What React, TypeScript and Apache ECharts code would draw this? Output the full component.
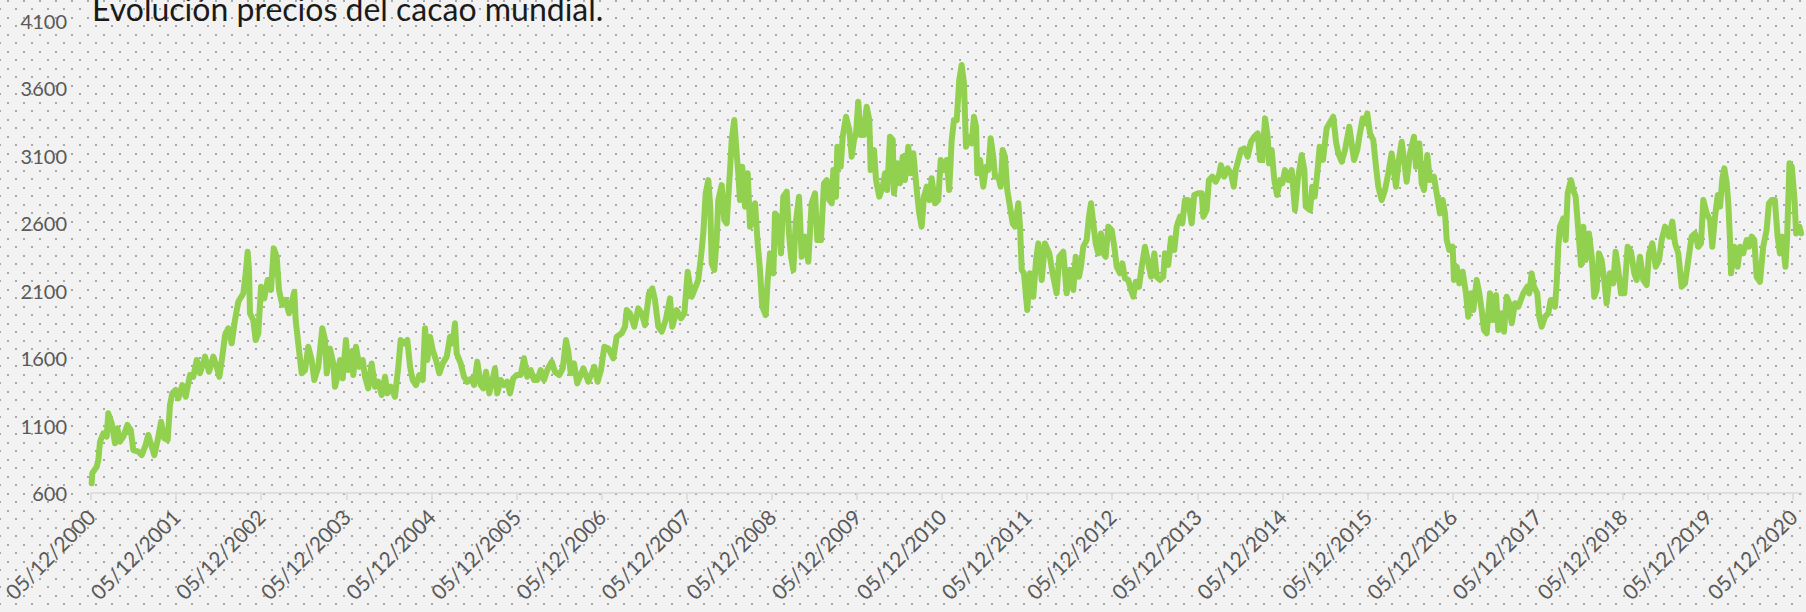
import React, { useEffect, useRef } from 'react';
import * as echarts from 'echarts';

const TITLE = 'Evolución precios del cacao mundial.';
const TICK_YEARS = [2000, 2001, 2002, 2003, 2004, 2005, 2006, 2007, 2008, 2009, 2010, 2011, 2012, 2013, 2014, 2015, 2016, 2017, 2018, 2019, 2020];
const TICK_PREFIX = '05/12/';
const X_START = 2000;
const X_END = 2020.1;
const Y_MIN = 600;
const Y_MAX = 4100;
const Y_STEP = 500;

// [years since 05/12/2000, price]
const prices2000: [number, number][] = [
  [0.008, 672], [0.015, 746], [0.067, 795], [0.086, 844], [0.106, 980], [0.145, 1042], [0.184, 1017], [0.203, 1190],
  [0.243, 1116], [0.282, 968], [0.309, 1079], [0.341, 980], [0.380, 1017], [0.427, 1104], [0.467, 1067], [0.497, 918],
  [0.556, 906], [0.596, 881], [0.635, 943], [0.673, 1030], [0.713, 943], [0.744, 881], [0.784, 993], [0.823, 1128],
  [0.861, 1005], [0.901, 993], [0.928, 1252], [0.955, 1338], [0.995, 1363], [1.026, 1301], [1.073, 1400], [1.113, 1313],
  [1.163, 1474], [1.202, 1461], [1.242, 1585], [1.281, 1487], [1.340, 1610], [1.387, 1498], [1.437, 1610], [1.477, 1535],
  [1.508, 1461], [1.543, 1610], [1.575, 1770], [1.613, 1820], [1.653, 1709], [1.692, 1881], [1.731, 2017], [1.790, 2079],
  [1.818, 2227], [1.841, 2387], [1.857, 2252], [1.868, 1931], [1.907, 1881], [1.935, 1733], [1.966, 1783], [1.998, 2128],
  [2.036, 2042], [2.076, 2178], [2.115, 2104], [2.147, 2412], [2.182, 2350], [2.209, 2104], [2.248, 1993], [2.288, 2030],
  [2.327, 1931], [2.365, 2030], [2.389, 2091], [2.405, 1881], [2.444, 1659], [2.476, 1487], [2.515, 1511], [2.553, 1684],
  [2.593, 1585], [2.624, 1437], [2.671, 1535], [2.718, 1820], [2.750, 1733], [2.770, 1487], [2.808, 1671], [2.847, 1560],
  [2.867, 1387],
];

const prices2003: [number, number][] = [
  [2.887, 1437], [2.926, 1585], [2.958, 1449], [2.996, 1733], [3.024, 1511], [3.052, 1647], [3.082, 1474], [3.114, 1684],
  [3.153, 1535], [3.193, 1585], [3.220, 1461], [3.258, 1375], [3.298, 1560], [3.337, 1387], [3.376, 1424], [3.416, 1326],
  [3.455, 1461], [3.482, 1338], [3.522, 1387], [3.572, 1313], [3.611, 1535], [3.639, 1733], [3.678, 1709], [3.717, 1733],
  [3.749, 1535], [3.780, 1437], [3.819, 1400], [3.858, 1474], [3.898, 1437], [3.925, 1820], [3.952, 1585], [3.984, 1758],
  [4.015, 1659], [4.054, 1585], [4.093, 1487], [4.133, 1560], [4.180, 1610], [4.219, 1758], [4.250, 1709], [4.277, 1857],
  [4.297, 1635], [4.344, 1560], [4.383, 1461], [4.422, 1424], [4.474, 1449], [4.501, 1400], [4.539, 1573], [4.579, 1400],
  [4.610, 1375], [4.642, 1498], [4.680, 1338], [4.709, 1412], [4.747, 1523], [4.774, 1338], [4.814, 1437], [4.853, 1400],
  [4.892, 1424], [4.924, 1338], [4.962, 1449], [5.002, 1474], [5.049, 1474], [5.088, 1598], [5.127, 1461], [5.167, 1511],
  [5.206, 1437], [5.244, 1437], [5.284, 1511], [5.323, 1437], [5.362, 1511], [5.414, 1573], [5.452, 1498], [5.503, 1474],
  [5.543, 1523], [5.582, 1733], [5.609, 1647], [5.637, 1487], [5.676, 1560], [5.714, 1412],
];

const prices2005: [number, number][] = [
  [5.785, 1523], [5.844, 1424], [5.914, 1535], [5.954, 1424], [5.993, 1511], [6.032, 1684], [6.079, 1671], [6.138, 1598],
  [6.177, 1758], [6.236, 1783], [6.275, 1832], [6.295, 1955], [6.334, 1931], [6.384, 1832], [6.431, 1968], [6.471, 1931],
  [6.510, 1844], [6.557, 2079], [6.596, 2116], [6.627, 2030], [6.666, 1832], [6.706, 1795], [6.753, 1881], [6.804, 2042],
  [6.831, 1832], [6.882, 1955], [6.933, 1894], [6.972, 1931], [7.012, 2239], [7.059, 2054], [7.106, 2128], [7.136, 2178],
  [7.168, 2350], [7.195, 2523], [7.223, 2820], [7.254, 2918], [7.277, 2721], [7.294, 2301], [7.324, 2252], [7.352, 2474],
  [7.371, 2770], [7.411, 2881], [7.442, 2622], [7.470, 2597], [7.489, 2795], [7.509, 2992], [7.529, 3215], [7.559, 3363],
  [7.587, 3116], [7.606, 2968], [7.626, 2770], [7.653, 3017], [7.685, 2721], [7.717, 2968], [7.744, 2573], [7.771, 2622],
  [7.803, 2746], [7.834, 2449], [7.861, 2252], [7.888, 1980], [7.928, 1918], [7.952, 2178], [7.979, 2375], [8.018, 2227],
  [8.038, 2671], [8.069, 2647], [8.108, 2375], [8.135, 2795], [8.175, 2832], [8.202, 2523], [8.226, 2350], [8.253, 2252],
  [8.281, 2597], [8.320, 2795], [8.351, 2350], [8.390, 2499], [8.429, 2313], [8.468, 2746], [8.508, 2820], [8.535, 2474],
  [8.578, 2474],
];

const prices2008: [number, number][] = [
  [8.613, 2894], [8.645, 2918], [8.675, 2770], [8.704, 2746], [8.723, 2992], [8.754, 2795], [8.770, 3165], [8.810, 3017],
  [8.833, 3239], [8.872, 3387], [8.911, 3289], [8.939, 3091], [8.966, 3215], [8.990, 3264], [9.016, 3498], [9.045, 3252],
  [9.083, 3252], [9.115, 3461], [9.146, 3363], [9.162, 2992], [9.201, 3141], [9.225, 2918], [9.263, 2795], [9.303, 2869],
  [9.330, 2968], [9.357, 2844], [9.389, 3239], [9.421, 3215], [9.436, 2820], [9.475, 3042], [9.506, 2894], [9.538, 3091],
  [9.565, 2918], [9.604, 3165], [9.632, 2968], [9.663, 3116], [9.703, 2844], [9.733, 2671], [9.761, 2573], [9.788, 2795],
  [9.820, 2869], [9.851, 2770], [9.879, 2931], [9.918, 2746], [9.956, 2770], [9.985, 3067], [10.023, 2992], [10.055, 3067],
  [10.085, 2844], [10.114, 3215], [10.141, 3363], [10.173, 3363], [10.203, 3659], [10.231, 3770], [10.258, 3635], [10.282, 3165],
  [10.321, 3239], [10.349, 3190], [10.376, 3387], [10.400, 3313], [10.415, 2968], [10.447, 3067], [10.485, 2869], [10.517, 3017],
  [10.544, 2992], [10.572, 3227], [10.603, 3091], [10.623, 2943], [10.662, 2943], [10.690, 2869], [10.713, 3141], [10.740, 3091],
  [10.767, 2844], [10.799, 2721], [10.831, 2597], [10.858, 2573], [10.897, 2746], [10.917, 2573], [10.937, 2252], [10.963, 2227],
  [11.002, 1955], [11.034, 2227], [11.073, 2054], [11.105, 2326], [11.132, 2449], [11.172, 2178], [11.210, 2449], [11.261, 2375],
  [11.300, 2227], [11.347, 2079], [11.378, 2350], [11.425, 2387],
];

const prices2011: [number, number][] = [
  [11.465, 2079], [11.496, 2252], [11.516, 2252], [11.543, 2104], [11.571, 2350], [11.610, 2202], [11.633, 2276], [11.660, 2424],
  [11.700, 2474], [11.727, 2647], [11.751, 2746], [11.778, 2597], [11.806, 2449], [11.837, 2375], [11.868, 2523], [11.895, 2375],
  [11.923, 2350], [11.954, 2573], [11.994, 2548], [12.025, 2424], [12.053, 2276], [12.092, 2227], [12.119, 2301], [12.150, 2190],
  [12.189, 2178], [12.221, 2104], [12.248, 2054], [12.276, 2165], [12.315, 2128], [12.347, 2276], [12.385, 2424], [12.417, 2326],
  [12.456, 2202], [12.495, 2375], [12.523, 2202], [12.562, 2178], [12.600, 2202], [12.620, 2375], [12.659, 2289], [12.691, 2487],
  [12.730, 2400], [12.758, 2573], [12.797, 2647], [12.824, 2597], [12.855, 2770], [12.894, 2770], [12.934, 2597], [12.964, 2807],
  [13.011, 2820], [13.052, 2820], [13.071, 2647], [13.110, 2696], [13.137, 2918], [13.176, 2943], [13.216, 2906], [13.255, 2955],
  [13.278, 3029], [13.317, 2943], [13.357, 3005], [13.396, 2968], [13.428, 2869], [13.451, 2992], [13.482, 3067], [13.513, 3141],
  [13.552, 3153], [13.592, 3091], [13.631, 3202], [13.670, 3239], [13.710, 3264], [13.737, 3067], [13.764, 3067], [13.796, 3375],
  [13.827, 3239], [13.843, 3042], [13.874, 3141], [13.905, 2918], [13.937, 2807], [13.972, 2918], [13.999, 2894], [14.031, 2992],
  [14.070, 2918], [14.109, 2992], [14.148, 2696], [14.180, 2918], [14.227, 3104], [14.258, 2992], [14.274, 2721], [14.325, 2696],
  [14.351, 2869],
];

const prices2014: [number, number][] = [
  [14.379, 2795], [14.406, 2943], [14.438, 3165], [14.477, 3067], [14.520, 3301], [14.554, 3338], [14.598, 3387], [14.630, 3202],
  [14.657, 3116], [14.697, 3054], [14.736, 3141], [14.786, 3313], [14.814, 3190], [14.841, 3067], [14.880, 3141], [14.904, 3239],
  [14.943, 3375], [14.971, 3338], [14.998, 3412], [15.029, 3264], [15.068, 3215], [15.100, 3017], [15.127, 2869], [15.167, 2770],
  [15.205, 2844], [15.244, 2968], [15.284, 3116], [15.335, 2869], [15.362, 3042], [15.402, 3202], [15.429, 3067], [15.460, 2906],
  [15.499, 3116], [15.546, 3239], [15.570, 3017], [15.609, 3190], [15.637, 2894], [15.664, 2844], [15.703, 3104], [15.734, 2918],
  [15.781, 2943], [15.813, 2820], [15.852, 2671], [15.883, 2770], [15.911, 2671], [15.931, 2474], [15.961, 2400], [16.001, 2424],
  [16.016, 2178], [16.048, 2276], [16.078, 2153], [16.118, 2239], [16.157, 2079], [16.184, 1906], [16.216, 2079], [16.243, 1955],
  [16.283, 2178], [16.314, 2079], [16.342, 1955], [16.369, 1807], [16.401, 1783], [16.439, 2079], [16.471, 1881], [16.510, 2067],
  [16.537, 1807], [16.577, 1931], [16.604, 1795], [16.636, 2054], [16.666, 2005], [16.695, 1857], [16.733, 2005], [16.772, 1980],
  [16.831, 2079], [16.877, 2128], [16.901, 2079], [16.929, 2227], [16.956, 2128], [16.995, 2079], [17.018, 1906], [17.047, 1832],
  [17.086, 1906], [17.125, 1931], [17.153, 2030], [17.203, 1980],
];

const prices2017: [number, number][] = [
  [17.223, 2153], [17.242, 2424], [17.262, 2573], [17.301, 2634], [17.329, 2474], [17.352, 2820], [17.391, 2918], [17.418, 2844],
  [17.446, 2795], [17.477, 2548], [17.509, 2289], [17.536, 2573], [17.564, 2326], [17.603, 2523], [17.635, 2350], [17.665, 2054],
  [17.693, 2104], [17.720, 2375], [17.751, 2326], [17.782, 2178], [17.810, 2005], [17.849, 2227], [17.888, 2153], [17.916, 2387],
  [17.947, 2252], [17.979, 2079], [18.018, 2079], [18.057, 2424], [18.096, 2387], [18.135, 2227], [18.163, 2178], [18.202, 2350],
  [18.241, 2178], [18.281, 2141], [18.308, 2375], [18.347, 2449], [18.387, 2276], [18.426, 2326], [18.457, 2474], [18.496, 2573],
  [18.543, 2499], [18.582, 2610], [18.614, 2449], [18.652, 2375], [18.692, 2128], [18.731, 2153], [18.770, 2326], [18.809, 2499],
  [18.848, 2523], [18.887, 2424], [18.919, 2449], [18.946, 2770], [18.986, 2671], [19.025, 2622], [19.052, 2424], [19.084, 2647],
  [19.116, 2807], [19.143, 2721], [19.170, 2931], [19.193, 3005], [19.221, 2894], [19.240, 2746], [19.260, 2474], [19.272, 2227],
  [19.310, 2424], [19.350, 2276], [19.377, 2424], [19.415, 2375], [19.456, 2474], [19.483, 2424], [19.515, 2499], [19.545, 2474],
  [19.573, 2202], [19.612, 2165], [19.650, 2424], [19.690, 2548], [19.717, 2746], [19.748, 2770], [19.787, 2770], [19.819, 2499],
  [19.846, 2375], [19.873, 2499], [19.911, 2276], [19.931, 2499], [19.959, 3042], [19.986, 3017], [20.018, 2770], [20.037, 2523],
  [20.076, 2573], [20.095, 2523],
];

const DOTS =
  "url(\"data:image/svg+xml,%3Csvg xmlns='http://www.w3.org/2000/svg' width='16' height='17'%3E%3Crect x='0' y='0' width='2' height='2' fill='%23a8a8a8'/%3E%3Crect x='8' y='8' width='2' height='2' fill='%23a8a8a8'/%3E%3C/svg%3E\")";

export default function App() {
  const ref = useRef<HTMLDivElement>(null);

  useEffect(() => {
    if (!ref.current) return;
    const chart = echarts.init(ref.current, null, { renderer: 'svg' });
    const all = [...prices2000, ...prices2003, ...prices2005, ...prices2008, ...prices2011, ...prices2014, ...prices2017];
    const data = all.map(([t, p]) => [X_START + t, p]);
    chart.setOption({
      animation: false,
      backgroundColor: 'transparent',
      title: {
        text: TITLE,
        left: 92,
        top: -8,
        padding: 0,
        textStyle: { fontFamily: 'Lato', fontSize: 32, fontWeight: 'normal', color: '#1a1a1a' },
      },
      grid: { left: 91, right: 4.5, top: 20.5, bottom: 119, containLabel: false, outerBoundsMode: 'none' },
      xAxis: {
        type: 'value',
        min: X_START,
        max: X_END,
        interval: 1,
        axisLine: { show: true, lineStyle: { color: '#d9d9d9', width: 1.5 } },
        axisTick: { show: true, length: 7, lineStyle: { color: '#d9d9d9', width: 1.5 }, customValues: TICK_YEARS },
        splitLine: { show: false },
        axisLabel: {
          customValues: TICK_YEARS,
          rotate: 45,
          margin: 20,
          color: '#595959',
          fontFamily: 'Lato',
          fontSize: 21,
          formatter: (v: number) => TICK_PREFIX + Math.round(v),
        },
      },
      yAxis: {
        type: 'value',
        min: Y_MIN,
        max: Y_MAX,
        interval: Y_STEP,
        axisLine: { show: false },
        axisTick: { show: false },
        splitLine: { show: false },
        axisLabel: {
          color: '#595959',
          fontFamily: 'Lato',
          fontSize: 20,
          margin: 24,
          formatter: (v: number) => String(v),
        },
      },
      series: [
        {
          type: 'line',
          data,
          symbol: 'none',
          showSymbol: false,
          clip: false,
          lineStyle: { color: '#92d050', width: 6, cap: 'round', join: 'round' },
        },
      ],
    });
    return () => chart.dispose();
  }, []);

  return (
    <div
      ref={ref}
      style={{
        position: 'fixed',
        left: 0,
        top: 0,
        width: 1806,
        height: 612,
        backgroundColor: '#f2f2f2',
        backgroundImage: DOTS,
        backgroundPosition: '7px 0px',
      }}
    />
  );
}
